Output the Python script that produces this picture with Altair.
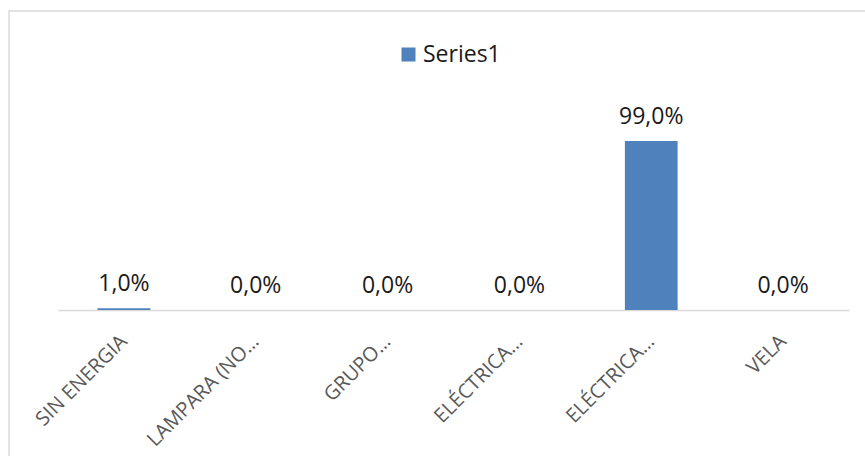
import json
import altair as alt
import pandas as pd

categories = ["SIN ENERGIA", "LAMPARA (NO…", "GRUPO…", "ELÉCTRICA…", "ELÉCTRICA…", "VELA"]
values = [0.01, 0.0, 0.0, 0.0, 0.99, 0.0]
series_name = "Series1"

df = pd.DataFrame({
    "idx": list(range(len(categories))),
    "value": values,
    "series": [series_name] * len(categories),
})

label_expr = json.dumps(categories) + "[datum.value]"

FONT = "Open Sans"

x_enc = alt.X(
    "idx:O",
    title=None,
    scale=alt.Scale(paddingInner=0.6, paddingOuter=0.3),
    axis=alt.Axis(
        labelExpr=label_expr,
        labelAngle=-45,
        labelAlign="right",
        labelBaseline="middle",
        labelPadding=28,
        labelFontSize=20,
        labelColor="#595959",
        labelFont=FONT,
        labelLimit=300,
        ticks=False,
        domainColor="#d9d9d9",
        domainWidth=1.5,
        grid=False,
    ),
)
y_enc = alt.Y("value:Q", scale=alt.Scale(domain=[0, 1.2]), axis=None)

bars = alt.Chart(df).mark_bar(color="#4f81bd").encode(
    x=x_enc,
    y=y_enc,
    color=alt.Color(
        "series:N",
        scale=alt.Scale(range=["#4f81bd"]),
        legend=alt.Legend(
            title=None,
            orient="none",
            legendX=339,
            legendY=-62,
            symbolType="square",
            symbolSize=196,
            symbolStrokeWidth=0,
            labelFontSize=23,
            labelFont=FONT,
            labelColor="#1a1a1a",
            labelOffset=3,
            padding=0,
        ),
    ),
)

texts = alt.Chart(df).transform_calculate(
    label="replace(format(datum.value, '.1%'), '.', ',')"
).mark_text(
    baseline="alphabetic", dy=-17, fontSize=23, font=FONT, color="#1a1a1a"
).encode(x=x_enc, y=y_enc, text="label:N")

frame = alt.Chart(df).mark_rect(
    fill=None, stroke="#d9d9d9", strokeWidth=1.5
).encode(
    x=alt.value(-49), x2=alt.value(830), y=alt.value(-94), y2=alt.value(380)
).transform_filter("datum.idx == 0")

chart = alt.layer(frame, bars, texts).properties(
    width=791,
    height=205,
    padding={"left": 58, "top": 105, "right": 16, "bottom": 146},
    autosize=alt.AutoSizeParams(type="none"),
    background="white",
).configure_view(stroke=None)

chart.save("out.html", embed_options={"renderer": "svg", "actions": False})
